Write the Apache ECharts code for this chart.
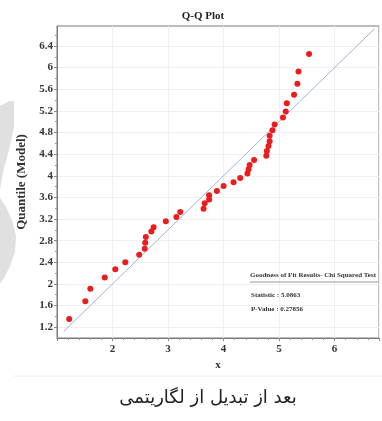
<!DOCTYPE html>
<html>
<head>
<meta charset="utf-8">
<script src="https://cdn.jsdelivr.net/npm/echarts@6/dist/echarts.min.js"></script>
<style>
  html, body { margin: 0; padding: 0; background: #fff; }
  #chart { width: 382px; height: 421px; }
</style>
</head>
<body>
<div id="chart"></div>
<script>
// Sample quantiles (x) against model quantiles after the log transform
const sampleX = [1.22, 1.51, 1.60, 1.86, 2.05, 2.23, 2.48, 2.58, 2.59, 2.60,
                 2.70, 2.74, 2.96, 3.15, 3.22, 3.64, 3.66, 3.74, 3.74, 3.88,
                 4.00, 4.18, 4.30, 4.43, 4.45, 4.47, 4.55, 4.77, 4.78, 4.81,
                 4.83, 4.83, 4.88, 4.92, 5.07, 5.12, 5.14, 5.27, 5.33, 5.35, 5.54];
const modelY  = [1.35, 1.68, 1.91, 2.12, 2.27, 2.40, 2.54, 2.65, 2.76, 2.87,
                 2.97, 3.05, 3.16, 3.24, 3.33, 3.39, 3.49, 3.56, 3.64, 3.72,
                 3.81, 3.88, 3.96, 4.04, 4.12, 4.20, 4.29, 4.37, 4.46, 4.55,
                 4.64, 4.74, 4.84, 4.95, 5.08, 5.19, 5.34, 5.50, 5.70, 5.93, 6.25];

// Reference line y = x
const refX = [1.12, 6.72];
const refY = [1.12, 6.72];

const xTicks = [2, 3, 4, 5, 6];
const yTicks = [1.2, 1.6, 2, 2.4, 2.8, 3.2, 3.6, 4, 4.4, 4.8, 5.2, 5.6, 6, 6.4];
const yMinorTicks = [1.4, 1.8, 2.2, 2.6, 3.0, 3.4, 3.8, 4.2, 4.6, 5.0, 5.4, 5.8, 6.2, 6.6];

const fitTitle = 'Goodness of Fit Results- Chi Squared Test';
const fitStatistic = 'Statistic : 5.0863';
const fitPValue = 'P-Value : 0.27856';
const caption = 'بعد از تبدیل از لگاریتمی';

const serif = "'Liberation Serif', 'DejaVu Serif', serif";

const chart = echarts.init(document.getElementById('chart'), null, { renderer: 'canvas' });

const yBase = {
  type: 'value', min: 1, max: 6.77, position: 'left',
  axisLine: { show: false }, axisLabel: { show: false },
  splitLine: { show: false }
};

chart.setOption({
  animation: false,
  backgroundColor: '#fff',
  title: {
    text: 'Q-Q Plot', left: 198, top: 6, textAlign: 'center',
    textStyle: { fontFamily: serif, fontWeight: 'bold', fontSize: 11, color: '#222' }
  },
  grid: { left: 57, right: -8, top: 26, bottom: 83, show: true, borderColor: '#7a7a7a', borderWidth: 1 },
  xAxis: {
    type: 'value', min: 1, max: 6.8, interval: 1,
    name: 'x', nameLocation: 'middle', nameGap: 22,
    nameTextStyle: { fontFamily: serif, fontWeight: 'bold', fontSize: 11, color: '#333' },
    axisLine: { lineStyle: { color: '#7a7a7a' } },
    axisTick: { length: 3, lineStyle: { color: '#888' } },
    minorTick: { show: true, splitNumber: 5, length: 2, lineStyle: { color: '#999' } },
    axisLabel: {
      margin: 6, fontFamily: serif, fontWeight: 'bold', fontSize: 11, color: '#333',
      formatter: v => (xTicks.indexOf(v) >= 0 ? String(v) : '')
    },
    splitLine: { show: true, lineStyle: { color: '#f0f0f0' } }
  },
  yAxis: [
    {
      type: 'value', min: 1, max: 6.77, position: 'left',
      name: 'Quantile (Model)', nameLocation: 'middle', nameGap: 25,
      nameTextStyle: { fontFamily: serif, fontWeight: 'bold', fontSize: 13, color: '#333' },
      axisLine: { show: true, lineStyle: { color: '#7a7a7a' } },
      axisTick: { show: true, length: 3, customValues: yTicks, lineStyle: { color: '#888' } },
      axisLabel: {
        margin: 4, customValues: yTicks, fontFamily: serif, fontWeight: 'bold', fontSize: 11, color: '#333',
        formatter: v => String(+v.toFixed(1))
      },
      splitLine: { show: false }
    },
    Object.assign({}, yBase, {
      axisTick: { show: true, length: 2, customValues: yMinorTicks, lineStyle: { color: '#999' } }
    })
  ],
  series: [
    {
      // horizontal grid lines at the labelled quantiles
      type: 'line', data: [], z: 0, silent: true,
      markLine: {
        silent: true, symbol: 'none', label: { show: false }, z: 0,
        lineStyle: { color: '#f0f0f0', width: 1, type: 'solid' },
        data: yTicks.map(v => ({ yAxis: v }))
      }
    },
    {
      type: 'line', data: refX.map((x, i) => [x, refY[i]]),
      symbol: 'none', lineStyle: { color: '#9fb6d9', width: 1 }, z: 2
    },
    {
      type: 'scatter', data: sampleX.map((x, i) => [x, modelY[i]]),
      symbol: 'circle', symbolSize: 6,
      itemStyle: { color: '#ec1c1c', opacity: 1 }, z: 3
    }
  ],
  graphic: [
    // faint grey flourish on the left edge
    { type: 'polygon', silent: true, z: -1,
      shape: { points: [[0, 106], [9, 101], [14, 101], [14, 128], [9, 150], [3, 172], [0, 190]] },
      style: { fill: '#e0e0e0' } },
    { type: 'polygon', silent: true, z: -1,
      shape: { points: [[0, 198], [6, 207], [12, 220], [16, 236], [15, 252], [10, 266], [4, 278], [0, 284]] },
      style: { fill: '#e0e0e0' } },
    { type: 'text', left: 250, top: 272, z: 100,
      style: { text: fitTitle, fontFamily: serif, fontWeight: 'bold', fontSize: 7, fill: '#333' } },
    { type: 'line', z: 100, shape: { x1: 250, y1: 282, x2: 378, y2: 282 }, style: { stroke: '#555', lineWidth: 0.6 } },
    { type: 'text', left: 251, top: 292, z: 100,
      style: { text: fitStatistic, fontFamily: serif, fontWeight: 'bold', fontSize: 7, fill: '#333' } },
    { type: 'text', left: 251, top: 306, z: 100,
      style: { text: fitPValue, fontFamily: serif, fontWeight: 'bold', fontSize: 7, fill: '#333' } },
    { type: 'line', shape: { x1: 14, y1: 376, x2: 382, y2: 376 }, style: { stroke: '#ececec', lineWidth: 1 } },
    { type: 'text', x: 208, y: 398, z: 100,
      style: { text: caption, fontFamily: "'DejaVu Sans', 'Noto Sans', sans-serif", fontSize: 18, fill: '#222',
               align: 'center', verticalAlign: 'middle' } }
  ]
});
</script>
</body>
</html>
